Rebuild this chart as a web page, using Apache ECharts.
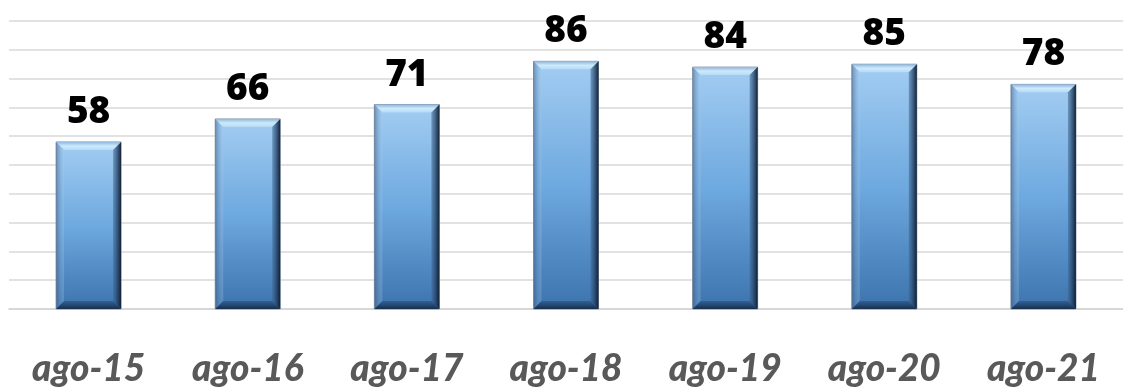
<!DOCTYPE html>
<html><head><meta charset="utf-8">
<script src="https://cdn.jsdelivr.net/npm/echarts@6/dist/echarts.min.js"></script>
<style>html,body{margin:0;padding:0;background:#fff}#c{width:1123px;height:389px}</style>
</head><body><div id="c"></div>
<script>
var categories = ['ago-15','ago-16','ago-17','ago-18','ago-19','ago-20','ago-21'];
var values = [58, 66, 71, 86, 84, 85, 78];
var yTicks = {min: 0, max: 100, interval: 10};

var BW = 65, BV = 8;
var G = echarts.graphic;
function renderBar(params, api) {
  var i = api.value(0), v = api.value(1);
  var top = api.coord([i, v]), base = api.coord([i, 0]);
  var x0 = top[0] - BW / 2, x1 = top[0] + BW / 2, y0 = top[1], y1 = base[1];
  var b = BV;
  return {
    type: 'group',
    children: [
      {type: 'rect', shape: {x: x0, y: y0, width: BW, height: y1 - y0},
        style: {fill: new G.LinearGradient(0, 0, 0, 1, [
          {offset: 0, color: '#a3cdf2'}, {offset: 0.5, color: '#6ea9df'}, {offset: 1, color: '#3c73ad'}]),
          stroke: '#8a9aab', lineWidth: 1}},
      {type: 'polygon', shape: {points: [[x0, y0], [x1, y0], [x1 - b, y0 + b], [x0 + b, y0 + b]]},
        style: {fill: new G.LinearGradient(0, 0, 0, 1, [
          {offset: 0, color: '#8fb6dc'}, {offset: 0.5, color: '#cdeafc'}, {offset: 1, color: '#b6dbf8'}])}},
      {type: 'polygon', shape: {points: [[x0, y0], [x0 + b, y0 + b], [x0 + b, y1 - b], [x0, y1]]},
        style: {fill: new G.LinearGradient(0, 0, 1, 0, [
          {offset: 0, color: 'rgba(60,90,130,0.55)'}, {offset: 1, color: 'rgba(170,210,245,0.25)'}])}},
      {type: 'polygon', shape: {points: [[x1, y0], [x1 - b, y0 + b], [x1 - b, y1 - b], [x1, y1]]},
        style: {fill: new G.LinearGradient(0, 0, 1, 0, [
          {offset: 0, color: 'rgba(60,100,145,0.5)'}, {offset: 1, color: 'rgba(10,25,45,0.95)'}])}},
      {type: 'polygon', shape: {points: [[x0, y1], [x0 + b, y1 - b], [x1 - b, y1 - b], [x1, y1]]},
        style: {fill: new G.LinearGradient(0, 0, 0, 1, [
          {offset: 0, color: 'rgba(40,80,125,0.6)'}, {offset: 1, color: 'rgba(20,40,70,0.95)'}])}}
    ]
  };
}

var chart = echarts.init(document.getElementById('c'), null, {renderer: 'canvas'});
chart.setOption({
  animation: false,
  grid: {left: 9, right: -13, top: 21, bottom: 80},
  xAxis: {type: 'category', data: categories,
    axisLine: {show: true, lineStyle: {color: '#d4d4d4', width: 1.5}},
    axisTick: {show: false},
    axisLabel: {color: '#595959', fontFamily: 'Lato', fontStyle: 'italic', fontWeight: 900, fontSize: 37, margin: 42}},
  yAxis: {type: 'value', min: yTicks.min, max: yTicks.max, interval: yTicks.interval,
    axisLabel: {show: false}, axisLine: {show: false}, axisTick: {show: false},
    splitLine: {lineStyle: {color: '#d9d9d9', width: 1.5}}},
  series: [
    {type: 'custom', renderItem: renderBar, data: values.map(function (v, i) { return [i, v]; }), z: 3},
    {type: 'bar', data: values, barWidth: BW, itemStyle: {color: 'rgba(0,0,0,0)'}, z: 4,
      label: {show: true, position: 'top', distance: 11, color: '#000', fontFamily: 'Open Sans', fontWeight: 900, fontSize: 37}}
  ]
});
</script></body></html>
